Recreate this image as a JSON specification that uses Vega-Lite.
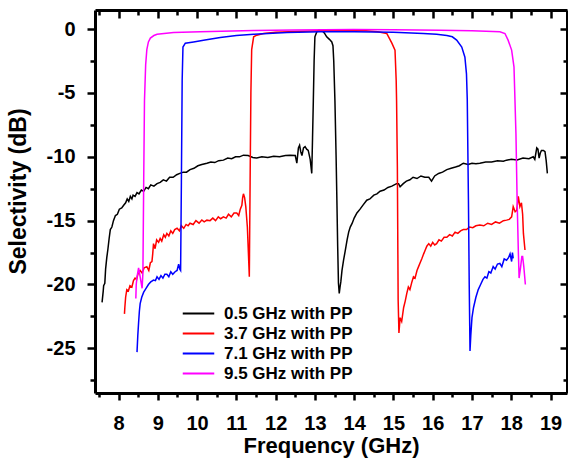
{
  "$schema": "https://vega.github.io/schema/vega-lite/v6.json",
  "width": 472,
  "height": 383,
  "autosize": {"type": "none"},
  "padding": {"left": 95, "top": 10, "right": 1, "bottom": 73},
  "config": {
    "view": {"stroke": null},
    "axis": {
      "grid": false,
      "domainColor": "#000000",
      "tickColor": "#000000",
      "domainWidth": 3,
      "tickWidth": 2.5,
      "labelFont": "Liberation Sans",
      "labelFontWeight": "bold",
      "labelFontSize": 20,
      "labelColor": "#000000",
      "labelFlush": false,
      "labelOverlap": false,
      "titleFont": "Liberation Sans",
      "titleFontWeight": "bold",
      "titleFontSize": 22,
      "titleColor": "#000000"
    }
  },
  "data": {
    "values": [
      {"s": "0.5 GHz with PP", "f": 7.58, "v": -21.4},
      {"s": "0.5 GHz with PP", "f": 7.61, "v": -20.5},
      {"s": "0.5 GHz with PP", "f": 7.62, "v": -20.1},
      {"s": "0.5 GHz with PP", "f": 7.65, "v": -19.9},
      {"s": "0.5 GHz with PP", "f": 7.67, "v": -18.8},
      {"s": "0.5 GHz with PP", "f": 7.70, "v": -17.9},
      {"s": "0.5 GHz with PP", "f": 7.73, "v": -17.2},
      {"s": "0.5 GHz with PP", "f": 7.76, "v": -16.4},
      {"s": "0.5 GHz with PP", "f": 7.79, "v": -15.7},
      {"s": "0.5 GHz with PP", "f": 7.83, "v": -15.5},
      {"s": "0.5 GHz with PP", "f": 7.87, "v": -15.0},
      {"s": "0.5 GHz with PP", "f": 7.92, "v": -14.6},
      {"s": "0.5 GHz with PP", "f": 7.97, "v": -14.5},
      {"s": "0.5 GHz with PP", "f": 8.02, "v": -14.1},
      {"s": "0.5 GHz with PP", "f": 8.08, "v": -14.0},
      {"s": "0.5 GHz with PP", "f": 8.13, "v": -13.8},
      {"s": "0.5 GHz with PP", "f": 8.18, "v": -13.6},
      {"s": "0.5 GHz with PP", "f": 8.22, "v": -13.3},
      {"s": "0.5 GHz with PP", "f": 8.26, "v": -13.5},
      {"s": "0.5 GHz with PP", "f": 8.30, "v": -13.1},
      {"s": "0.5 GHz with PP", "f": 8.34, "v": -13.3},
      {"s": "0.5 GHz with PP", "f": 8.37, "v": -13.0},
      {"s": "0.5 GHz with PP", "f": 8.42, "v": -13.1},
      {"s": "0.5 GHz with PP", "f": 8.47, "v": -12.8},
      {"s": "0.5 GHz with PP", "f": 8.52, "v": -12.9},
      {"s": "0.5 GHz with PP", "f": 8.58, "v": -12.6},
      {"s": "0.5 GHz with PP", "f": 8.64, "v": -12.7},
      {"s": "0.5 GHz with PP", "f": 8.70, "v": -12.4},
      {"s": "0.5 GHz with PP", "f": 8.76, "v": -12.5},
      {"s": "0.5 GHz with PP", "f": 8.82, "v": -12.2},
      {"s": "0.5 GHz with PP", "f": 8.90, "v": -12.3},
      {"s": "0.5 GHz with PP", "f": 8.98, "v": -12.1},
      {"s": "0.5 GHz with PP", "f": 9.06, "v": -12.0},
      {"s": "0.5 GHz with PP", "f": 9.14, "v": -11.8},
      {"s": "0.5 GHz with PP", "f": 9.22, "v": -11.9},
      {"s": "0.5 GHz with PP", "f": 9.30, "v": -11.6},
      {"s": "0.5 GHz with PP", "f": 9.39, "v": -11.6},
      {"s": "0.5 GHz with PP", "f": 9.48, "v": -11.4},
      {"s": "0.5 GHz with PP", "f": 9.56, "v": -11.3},
      {"s": "0.5 GHz with PP", "f": 9.65, "v": -11.2},
      {"s": "0.5 GHz with PP", "f": 9.73, "v": -11.2},
      {"s": "0.5 GHz with PP", "f": 9.82, "v": -11.0},
      {"s": "0.5 GHz with PP", "f": 9.92, "v": -10.9},
      {"s": "0.5 GHz with PP", "f": 10.02, "v": -10.7},
      {"s": "0.5 GHz with PP", "f": 10.12, "v": -10.6},
      {"s": "0.5 GHz with PP", "f": 10.25, "v": -10.5},
      {"s": "0.5 GHz with PP", "f": 10.35, "v": -10.4},
      {"s": "0.5 GHz with PP", "f": 10.45, "v": -10.45},
      {"s": "0.5 GHz with PP", "f": 10.55, "v": -10.3},
      {"s": "0.5 GHz with PP", "f": 10.67, "v": -10.26},
      {"s": "0.5 GHz with PP", "f": 10.78, "v": -10.1},
      {"s": "0.5 GHz with PP", "f": 10.88, "v": -10.15},
      {"s": "0.5 GHz with PP", "f": 10.98, "v": -10.0},
      {"s": "0.5 GHz with PP", "f": 11.08, "v": -10.0},
      {"s": "0.5 GHz with PP", "f": 11.18, "v": -9.87},
      {"s": "0.5 GHz with PP", "f": 11.30, "v": -9.9},
      {"s": "0.5 GHz with PP", "f": 11.42, "v": -10.05},
      {"s": "0.5 GHz with PP", "f": 11.52, "v": -10.1},
      {"s": "0.5 GHz with PP", "f": 11.65, "v": -10.0},
      {"s": "0.5 GHz with PP", "f": 11.80, "v": -10.05},
      {"s": "0.5 GHz with PP", "f": 11.95, "v": -9.95},
      {"s": "0.5 GHz with PP", "f": 12.10, "v": -10.0},
      {"s": "0.5 GHz with PP", "f": 12.25, "v": -9.9},
      {"s": "0.5 GHz with PP", "f": 12.37, "v": -9.87},
      {"s": "0.5 GHz with PP", "f": 12.50, "v": -9.9},
      {"s": "0.5 GHz with PP", "f": 12.54, "v": -10.5},
      {"s": "0.5 GHz with PP", "f": 12.58, "v": -9.3},
      {"s": "0.5 GHz with PP", "f": 12.61, "v": -9.1},
      {"s": "0.5 GHz with PP", "f": 12.64, "v": -9.6},
      {"s": "0.5 GHz with PP", "f": 12.67, "v": -9.9},
      {"s": "0.5 GHz with PP", "f": 12.71, "v": -9.3},
      {"s": "0.5 GHz with PP", "f": 12.75, "v": -9.2},
      {"s": "0.5 GHz with PP", "f": 12.79, "v": -9.4},
      {"s": "0.5 GHz with PP", "f": 12.83, "v": -9.5},
      {"s": "0.5 GHz with PP", "f": 12.88, "v": -10.2},
      {"s": "0.5 GHz with PP", "f": 12.92, "v": -11.3},
      {"s": "0.5 GHz with PP", "f": 12.94, "v": -8.5},
      {"s": "0.5 GHz with PP", "f": 12.96, "v": -5.6},
      {"s": "0.5 GHz with PP", "f": 12.98, "v": -2.5},
      {"s": "0.5 GHz with PP", "f": 13.00, "v": -0.6},
      {"s": "0.5 GHz with PP", "f": 13.05, "v": -0.2},
      {"s": "0.5 GHz with PP", "f": 13.09, "v": -0.08},
      {"s": "0.5 GHz with PP", "f": 13.13, "v": -0.05},
      {"s": "0.5 GHz with PP", "f": 13.18, "v": -0.1},
      {"s": "0.5 GHz with PP", "f": 13.24, "v": -0.3},
      {"s": "0.5 GHz with PP", "f": 13.30, "v": -0.6},
      {"s": "0.5 GHz with PP", "f": 13.37, "v": -0.8},
      {"s": "0.5 GHz with PP", "f": 13.43, "v": -1.0},
      {"s": "0.5 GHz with PP", "f": 13.46, "v": -1.3},
      {"s": "0.5 GHz with PP", "f": 13.48, "v": -2.5},
      {"s": "0.5 GHz with PP", "f": 13.51, "v": -5.6},
      {"s": "0.5 GHz with PP", "f": 13.54, "v": -10.0},
      {"s": "0.5 GHz with PP", "f": 13.56, "v": -13.4},
      {"s": "0.5 GHz with PP", "f": 13.58, "v": -17.0},
      {"s": "0.5 GHz with PP", "f": 13.60, "v": -19.9},
      {"s": "0.5 GHz with PP", "f": 13.62, "v": -20.7},
      {"s": "0.5 GHz with PP", "f": 13.64, "v": -20.2},
      {"s": "0.5 GHz with PP", "f": 13.66, "v": -19.8},
      {"s": "0.5 GHz with PP", "f": 13.69, "v": -18.9},
      {"s": "0.5 GHz with PP", "f": 13.73, "v": -18.1},
      {"s": "0.5 GHz with PP", "f": 13.77, "v": -17.4},
      {"s": "0.5 GHz with PP", "f": 13.82, "v": -16.5},
      {"s": "0.5 GHz with PP", "f": 13.86, "v": -15.9},
      {"s": "0.5 GHz with PP", "f": 13.90, "v": -15.5},
      {"s": "0.5 GHz with PP", "f": 13.95, "v": -15.2},
      {"s": "0.5 GHz with PP", "f": 14.00, "v": -14.8},
      {"s": "0.5 GHz with PP", "f": 14.07, "v": -14.4},
      {"s": "0.5 GHz with PP", "f": 14.15, "v": -14.1},
      {"s": "0.5 GHz with PP", "f": 14.22, "v": -13.8},
      {"s": "0.5 GHz with PP", "f": 14.32, "v": -13.4},
      {"s": "0.5 GHz with PP", "f": 14.40, "v": -13.3},
      {"s": "0.5 GHz with PP", "f": 14.50, "v": -13.0},
      {"s": "0.5 GHz with PP", "f": 14.58, "v": -12.9},
      {"s": "0.5 GHz with PP", "f": 14.66, "v": -12.7},
      {"s": "0.5 GHz with PP", "f": 14.76, "v": -12.6},
      {"s": "0.5 GHz with PP", "f": 14.86, "v": -12.4},
      {"s": "0.5 GHz with PP", "f": 14.96, "v": -12.3},
      {"s": "0.5 GHz with PP", "f": 15.08, "v": -12.1},
      {"s": "0.5 GHz with PP", "f": 15.13, "v": -12.1},
      {"s": "0.5 GHz with PP", "f": 15.17, "v": -12.35},
      {"s": "0.5 GHz with PP", "f": 15.25, "v": -12.1},
      {"s": "0.5 GHz with PP", "f": 15.33, "v": -11.9},
      {"s": "0.5 GHz with PP", "f": 15.42, "v": -11.8},
      {"s": "0.5 GHz with PP", "f": 15.50, "v": -11.6},
      {"s": "0.5 GHz with PP", "f": 15.60, "v": -11.7},
      {"s": "0.5 GHz with PP", "f": 15.70, "v": -11.5},
      {"s": "0.5 GHz with PP", "f": 15.80, "v": -11.6},
      {"s": "0.5 GHz with PP", "f": 15.90, "v": -11.6},
      {"s": "0.5 GHz with PP", "f": 15.97, "v": -11.9},
      {"s": "0.5 GHz with PP", "f": 16.05, "v": -11.5},
      {"s": "0.5 GHz with PP", "f": 16.15, "v": -11.3},
      {"s": "0.5 GHz with PP", "f": 16.25, "v": -11.2},
      {"s": "0.5 GHz with PP", "f": 16.36, "v": -11.0},
      {"s": "0.5 GHz with PP", "f": 16.47, "v": -10.9},
      {"s": "0.5 GHz with PP", "f": 16.58, "v": -10.8},
      {"s": "0.5 GHz with PP", "f": 16.68, "v": -10.7},
      {"s": "0.5 GHz with PP", "f": 16.78, "v": -10.5},
      {"s": "0.5 GHz with PP", "f": 16.90, "v": -10.6},
      {"s": "0.5 GHz with PP", "f": 17.00, "v": -10.5},
      {"s": "0.5 GHz with PP", "f": 17.10, "v": -10.55},
      {"s": "0.5 GHz with PP", "f": 17.20, "v": -10.5},
      {"s": "0.5 GHz with PP", "f": 17.35, "v": -10.4},
      {"s": "0.5 GHz with PP", "f": 17.50, "v": -10.4},
      {"s": "0.5 GHz with PP", "f": 17.65, "v": -10.3},
      {"s": "0.5 GHz with PP", "f": 17.80, "v": -10.35},
      {"s": "0.5 GHz with PP", "f": 17.88, "v": -10.26},
      {"s": "0.5 GHz with PP", "f": 18.00, "v": -10.2},
      {"s": "0.5 GHz with PP", "f": 18.15, "v": -10.25},
      {"s": "0.5 GHz with PP", "f": 18.30, "v": -10.1},
      {"s": "0.5 GHz with PP", "f": 18.45, "v": -10.15},
      {"s": "0.5 GHz with PP", "f": 18.56, "v": -10.0},
      {"s": "0.5 GHz with PP", "f": 18.60, "v": -10.2},
      {"s": "0.5 GHz with PP", "f": 18.65, "v": -9.3},
      {"s": "0.5 GHz with PP", "f": 18.68, "v": -9.4},
      {"s": "0.5 GHz with PP", "f": 18.71, "v": -10.1},
      {"s": "0.5 GHz with PP", "f": 18.74, "v": -9.7},
      {"s": "0.5 GHz with PP", "f": 18.77, "v": -9.5},
      {"s": "0.5 GHz with PP", "f": 18.82, "v": -9.5},
      {"s": "0.5 GHz with PP", "f": 18.86, "v": -9.6},
      {"s": "0.5 GHz with PP", "f": 18.89, "v": -10.3},
      {"s": "0.5 GHz with PP", "f": 18.92, "v": -11.3},

      {"s": "3.7 GHz with PP", "f": 8.15, "v": -22.3},
      {"s": "3.7 GHz with PP", "f": 8.16, "v": -21.8},
      {"s": "3.7 GHz with PP", "f": 8.18, "v": -21.0},
      {"s": "3.7 GHz with PP", "f": 8.21, "v": -20.4},
      {"s": "3.7 GHz with PP", "f": 8.25, "v": -20.5},
      {"s": "3.7 GHz with PP", "f": 8.29, "v": -20.1},
      {"s": "3.7 GHz with PP", "f": 8.34, "v": -20.2},
      {"s": "3.7 GHz with PP", "f": 8.38, "v": -19.7},
      {"s": "3.7 GHz with PP", "f": 8.42, "v": -19.5},
      {"s": "3.7 GHz with PP", "f": 8.46, "v": -19.6},
      {"s": "3.7 GHz with PP", "f": 8.50, "v": -19.1},
      {"s": "3.7 GHz with PP", "f": 8.55, "v": -18.9},
      {"s": "3.7 GHz with PP", "f": 8.60, "v": -19.1},
      {"s": "3.7 GHz with PP", "f": 8.65, "v": -18.7},
      {"s": "3.7 GHz with PP", "f": 8.72, "v": -18.6},
      {"s": "3.7 GHz with PP", "f": 8.77, "v": -18.9},
      {"s": "3.7 GHz with PP", "f": 8.81, "v": -18.3},
      {"s": "3.7 GHz with PP", "f": 8.85, "v": -18.2},
      {"s": "3.7 GHz with PP", "f": 8.87, "v": -17.6},
      {"s": "3.7 GHz with PP", "f": 8.89, "v": -16.8},
      {"s": "3.7 GHz with PP", "f": 8.93, "v": -17.2},
      {"s": "3.7 GHz with PP", "f": 8.97, "v": -16.5},
      {"s": "3.7 GHz with PP", "f": 9.02, "v": -16.7},
      {"s": "3.7 GHz with PP", "f": 9.06, "v": -16.4},
      {"s": "3.7 GHz with PP", "f": 9.10, "v": -16.6},
      {"s": "3.7 GHz with PP", "f": 9.15, "v": -16.1},
      {"s": "3.7 GHz with PP", "f": 9.19, "v": -16.3},
      {"s": "3.7 GHz with PP", "f": 9.23, "v": -16.0},
      {"s": "3.7 GHz with PP", "f": 9.28, "v": -16.2},
      {"s": "3.7 GHz with PP", "f": 9.33, "v": -15.8},
      {"s": "3.7 GHz with PP", "f": 9.38, "v": -16.0},
      {"s": "3.7 GHz with PP", "f": 9.43, "v": -15.7},
      {"s": "3.7 GHz with PP", "f": 9.49, "v": -15.6},
      {"s": "3.7 GHz with PP", "f": 9.55, "v": -15.8},
      {"s": "3.7 GHz with PP", "f": 9.60, "v": -15.4},
      {"s": "3.7 GHz with PP", "f": 9.66, "v": -15.6},
      {"s": "3.7 GHz with PP", "f": 9.72, "v": -15.3},
      {"s": "3.7 GHz with PP", "f": 9.77, "v": -15.4},
      {"s": "3.7 GHz with PP", "f": 9.82, "v": -15.2},
      {"s": "3.7 GHz with PP", "f": 9.90, "v": -15.3},
      {"s": "3.7 GHz with PP", "f": 9.97, "v": -15.0},
      {"s": "3.7 GHz with PP", "f": 10.05, "v": -15.2},
      {"s": "3.7 GHz with PP", "f": 10.12, "v": -14.95},
      {"s": "3.7 GHz with PP", "f": 10.18, "v": -15.1},
      {"s": "3.7 GHz with PP", "f": 10.25, "v": -14.96},
      {"s": "3.7 GHz with PP", "f": 10.33, "v": -15.0},
      {"s": "3.7 GHz with PP", "f": 10.40, "v": -14.8},
      {"s": "3.7 GHz with PP", "f": 10.47, "v": -15.0},
      {"s": "3.7 GHz with PP", "f": 10.54, "v": -14.7},
      {"s": "3.7 GHz with PP", "f": 10.60, "v": -14.85},
      {"s": "3.7 GHz with PP", "f": 10.67, "v": -14.7},
      {"s": "3.7 GHz with PP", "f": 10.74, "v": -14.8},
      {"s": "3.7 GHz with PP", "f": 10.80, "v": -14.5},
      {"s": "3.7 GHz with PP", "f": 10.87, "v": -14.7},
      {"s": "3.7 GHz with PP", "f": 10.94, "v": -14.4},
      {"s": "3.7 GHz with PP", "f": 11.01, "v": -14.4},
      {"s": "3.7 GHz with PP", "f": 11.06, "v": -14.6},
      {"s": "3.7 GHz with PP", "f": 11.10, "v": -14.1},
      {"s": "3.7 GHz with PP", "f": 11.14, "v": -13.8},
      {"s": "3.7 GHz with PP", "f": 11.16, "v": -13.2},
      {"s": "3.7 GHz with PP", "f": 11.18, "v": -12.9},
      {"s": "3.7 GHz with PP", "f": 11.21, "v": -13.2},
      {"s": "3.7 GHz with PP", "f": 11.24, "v": -13.9},
      {"s": "3.7 GHz with PP", "f": 11.28, "v": -15.5},
      {"s": "3.7 GHz with PP", "f": 11.31, "v": -17.8},
      {"s": "3.7 GHz with PP", "f": 11.33, "v": -19.4},
      {"s": "3.7 GHz with PP", "f": 11.35, "v": -12.0},
      {"s": "3.7 GHz with PP", "f": 11.37, "v": -5.0},
      {"s": "3.7 GHz with PP", "f": 11.39, "v": -1.6},
      {"s": "3.7 GHz with PP", "f": 11.44, "v": -0.6},
      {"s": "3.7 GHz with PP", "f": 11.52, "v": -0.47},
      {"s": "3.7 GHz with PP", "f": 11.69, "v": -0.34},
      {"s": "3.7 GHz with PP", "f": 12.0, "v": -0.25},
      {"s": "3.7 GHz with PP", "f": 12.5, "v": -0.18},
      {"s": "3.7 GHz with PP", "f": 13.13, "v": -0.13},
      {"s": "3.7 GHz with PP", "f": 13.8, "v": -0.1},
      {"s": "3.7 GHz with PP", "f": 14.3, "v": -0.12},
      {"s": "3.7 GHz with PP", "f": 14.6, "v": -0.2},
      {"s": "3.7 GHz with PP", "f": 14.83, "v": -0.34},
      {"s": "3.7 GHz with PP", "f": 14.96, "v": -1.1},
      {"s": "3.7 GHz with PP", "f": 15.04, "v": -1.64},
      {"s": "3.7 GHz with PP", "f": 15.07, "v": -4.0},
      {"s": "3.7 GHz with PP", "f": 15.08, "v": -5.6},
      {"s": "3.7 GHz with PP", "f": 15.10, "v": -10.8},
      {"s": "3.7 GHz with PP", "f": 15.12, "v": -21.2},
      {"s": "3.7 GHz with PP", "f": 15.14, "v": -23.8},
      {"s": "3.7 GHz with PP", "f": 15.17, "v": -22.6},
      {"s": "3.7 GHz with PP", "f": 15.21, "v": -22.9},
      {"s": "3.7 GHz with PP", "f": 15.26, "v": -21.8},
      {"s": "3.7 GHz with PP", "f": 15.30, "v": -21.3},
      {"s": "3.7 GHz with PP", "f": 15.34, "v": -20.7},
      {"s": "3.7 GHz with PP", "f": 15.38, "v": -20.2},
      {"s": "3.7 GHz with PP", "f": 15.42, "v": -20.4},
      {"s": "3.7 GHz with PP", "f": 15.47, "v": -19.8},
      {"s": "3.7 GHz with PP", "f": 15.51, "v": -19.4},
      {"s": "3.7 GHz with PP", "f": 15.55, "v": -19.5},
      {"s": "3.7 GHz with PP", "f": 15.60, "v": -18.9},
      {"s": "3.7 GHz with PP", "f": 15.64, "v": -18.6},
      {"s": "3.7 GHz with PP", "f": 15.68, "v": -18.3},
      {"s": "3.7 GHz with PP", "f": 15.72, "v": -18.0},
      {"s": "3.7 GHz with PP", "f": 15.77, "v": -17.6},
      {"s": "3.7 GHz with PP", "f": 15.81, "v": -17.3},
      {"s": "3.7 GHz with PP", "f": 15.85, "v": -17.0},
      {"s": "3.7 GHz with PP", "f": 15.90, "v": -16.8},
      {"s": "3.7 GHz with PP", "f": 15.95, "v": -17.0},
      {"s": "3.7 GHz with PP", "f": 16.00, "v": -16.7},
      {"s": "3.7 GHz with PP", "f": 16.05, "v": -16.9},
      {"s": "3.7 GHz with PP", "f": 16.10, "v": -16.8},
      {"s": "3.7 GHz with PP", "f": 16.16, "v": -16.5},
      {"s": "3.7 GHz with PP", "f": 16.22, "v": -16.6},
      {"s": "3.7 GHz with PP", "f": 16.29, "v": -16.3},
      {"s": "3.7 GHz with PP", "f": 16.36, "v": -16.3},
      {"s": "3.7 GHz with PP", "f": 16.43, "v": -16.1},
      {"s": "3.7 GHz with PP", "f": 16.50, "v": -16.2},
      {"s": "3.7 GHz with PP", "f": 16.57, "v": -15.9},
      {"s": "3.7 GHz with PP", "f": 16.64, "v": -16.0},
      {"s": "3.7 GHz with PP", "f": 16.71, "v": -15.8},
      {"s": "3.7 GHz with PP", "f": 16.78, "v": -15.7},
      {"s": "3.7 GHz with PP", "f": 16.86, "v": -15.7},
      {"s": "3.7 GHz with PP", "f": 16.94, "v": -15.5},
      {"s": "3.7 GHz with PP", "f": 17.02, "v": -15.55},
      {"s": "3.7 GHz with PP", "f": 17.10, "v": -15.4},
      {"s": "3.7 GHz with PP", "f": 17.20, "v": -15.35},
      {"s": "3.7 GHz with PP", "f": 17.30, "v": -15.4},
      {"s": "3.7 GHz with PP", "f": 17.40, "v": -15.2},
      {"s": "3.7 GHz with PP", "f": 17.50, "v": -15.3},
      {"s": "3.7 GHz with PP", "f": 17.60, "v": -15.1},
      {"s": "3.7 GHz with PP", "f": 17.70, "v": -15.2},
      {"s": "3.7 GHz with PP", "f": 17.80, "v": -15.0},
      {"s": "3.7 GHz with PP", "f": 17.88, "v": -14.96},
      {"s": "3.7 GHz with PP", "f": 17.95, "v": -14.9},
      {"s": "3.7 GHz with PP", "f": 18.01, "v": -14.7},
      {"s": "3.7 GHz with PP", "f": 18.05, "v": -13.9},
      {"s": "3.7 GHz with PP", "f": 18.10, "v": -14.3},
      {"s": "3.7 GHz with PP", "f": 18.14, "v": -14.2},
      {"s": "3.7 GHz with PP", "f": 18.18, "v": -13.1},
      {"s": "3.7 GHz with PP", "f": 18.22, "v": -13.9},
      {"s": "3.7 GHz with PP", "f": 18.26, "v": -13.6},
      {"s": "3.7 GHz with PP", "f": 18.29, "v": -14.5},
      {"s": "3.7 GHz with PP", "f": 18.31, "v": -16.0},
      {"s": "3.7 GHz with PP", "f": 18.35, "v": -17.3},

      {"s": "7.1 GHz with PP", "f": 8.47, "v": -25.3},
      {"s": "7.1 GHz with PP", "f": 8.49, "v": -24.0},
      {"s": "7.1 GHz with PP", "f": 8.51, "v": -23.0},
      {"s": "7.1 GHz with PP", "f": 8.53, "v": -22.1},
      {"s": "7.1 GHz with PP", "f": 8.55, "v": -21.5},
      {"s": "7.1 GHz with PP", "f": 8.59, "v": -21.0},
      {"s": "7.1 GHz with PP", "f": 8.64, "v": -20.6},
      {"s": "7.1 GHz with PP", "f": 8.70, "v": -20.3},
      {"s": "7.1 GHz with PP", "f": 8.76, "v": -20.0},
      {"s": "7.1 GHz with PP", "f": 8.82, "v": -19.8},
      {"s": "7.1 GHz with PP", "f": 8.89, "v": -19.65},
      {"s": "7.1 GHz with PP", "f": 8.94, "v": -19.7},
      {"s": "7.1 GHz with PP", "f": 8.98, "v": -19.4},
      {"s": "7.1 GHz with PP", "f": 9.03, "v": -19.6},
      {"s": "7.1 GHz with PP", "f": 9.08, "v": -19.3},
      {"s": "7.1 GHz with PP", "f": 9.13, "v": -19.5},
      {"s": "7.1 GHz with PP", "f": 9.18, "v": -19.2},
      {"s": "7.1 GHz with PP", "f": 9.23, "v": -19.2},
      {"s": "7.1 GHz with PP", "f": 9.28, "v": -19.4},
      {"s": "7.1 GHz with PP", "f": 9.33, "v": -19.0},
      {"s": "7.1 GHz with PP", "f": 9.38, "v": -19.2},
      {"s": "7.1 GHz with PP", "f": 9.44, "v": -19.0},
      {"s": "7.1 GHz with PP", "f": 9.49, "v": -18.9},
      {"s": "7.1 GHz with PP", "f": 9.53, "v": -18.4},
      {"s": "7.1 GHz with PP", "f": 9.56, "v": -18.8},
      {"s": "7.1 GHz with PP", "f": 9.58, "v": -18.9},
      {"s": "7.1 GHz with PP", "f": 9.60, "v": -12.0},
      {"s": "7.1 GHz with PP", "f": 9.62, "v": -4.0},
      {"s": "7.1 GHz with PP", "f": 9.64, "v": -1.4},
      {"s": "7.1 GHz with PP", "f": 9.70, "v": -1.1},
      {"s": "7.1 GHz with PP", "f": 9.91, "v": -1.0},
      {"s": "7.1 GHz with PP", "f": 10.2, "v": -0.85},
      {"s": "7.1 GHz with PP", "f": 10.59, "v": -0.65},
      {"s": "7.1 GHz with PP", "f": 11.0, "v": -0.5},
      {"s": "7.1 GHz with PP", "f": 11.44, "v": -0.4},
      {"s": "7.1 GHz with PP", "f": 12.29, "v": -0.26},
      {"s": "7.1 GHz with PP", "f": 13.13, "v": -0.2},
      {"s": "7.1 GHz with PP", "f": 14.0, "v": -0.2},
      {"s": "7.1 GHz with PP", "f": 15.0, "v": -0.25},
      {"s": "7.1 GHz with PP", "f": 15.76, "v": -0.34},
      {"s": "7.1 GHz with PP", "f": 16.1, "v": -0.4},
      {"s": "7.1 GHz with PP", "f": 16.36, "v": -0.5},
      {"s": "7.1 GHz with PP", "f": 16.5, "v": -0.6},
      {"s": "7.1 GHz with PP", "f": 16.61, "v": -0.86},
      {"s": "7.1 GHz with PP", "f": 16.74, "v": -1.4},
      {"s": "7.1 GHz with PP", "f": 16.82, "v": -2.2},
      {"s": "7.1 GHz with PP", "f": 16.86, "v": -3.5},
      {"s": "7.1 GHz with PP", "f": 16.88, "v": -5.5},
      {"s": "7.1 GHz with PP", "f": 16.91, "v": -13.4},
      {"s": "7.1 GHz with PP", "f": 16.93, "v": -20.0},
      {"s": "7.1 GHz with PP", "f": 16.95, "v": -25.2},
      {"s": "7.1 GHz with PP", "f": 16.97, "v": -24.0},
      {"s": "7.1 GHz with PP", "f": 17.00, "v": -22.6},
      {"s": "7.1 GHz with PP", "f": 17.04, "v": -21.8},
      {"s": "7.1 GHz with PP", "f": 17.10, "v": -21.0},
      {"s": "7.1 GHz with PP", "f": 17.16, "v": -20.4},
      {"s": "7.1 GHz with PP", "f": 17.22, "v": -20.0},
      {"s": "7.1 GHz with PP", "f": 17.28, "v": -19.6},
      {"s": "7.1 GHz with PP", "f": 17.33, "v": -19.4},
      {"s": "7.1 GHz with PP", "f": 17.38, "v": -19.5},
      {"s": "7.1 GHz with PP", "f": 17.43, "v": -19.0},
      {"s": "7.1 GHz with PP", "f": 17.48, "v": -19.1},
      {"s": "7.1 GHz with PP", "f": 17.54, "v": -18.6},
      {"s": "7.1 GHz with PP", "f": 17.59, "v": -18.8},
      {"s": "7.1 GHz with PP", "f": 17.65, "v": -18.4},
      {"s": "7.1 GHz with PP", "f": 17.71, "v": -18.35},
      {"s": "7.1 GHz with PP", "f": 17.76, "v": -18.6},
      {"s": "7.1 GHz with PP", "f": 17.82, "v": -18.0},
      {"s": "7.1 GHz with PP", "f": 17.88, "v": -18.1},
      {"s": "7.1 GHz with PP", "f": 17.93, "v": -17.9},
      {"s": "7.1 GHz with PP", "f": 17.97, "v": -17.6},
      {"s": "7.1 GHz with PP", "f": 18.01, "v": -18.2},
      {"s": "7.1 GHz with PP", "f": 18.03, "v": -17.5},
      {"s": "7.1 GHz with PP", "f": 18.05, "v": -17.95},

      {"s": "9.5 GHz with PP", "f": 8.44, "v": -21.1},
      {"s": "9.5 GHz with PP", "f": 8.45, "v": -20.0},
      {"s": "9.5 GHz with PP", "f": 8.47, "v": -19.4},
      {"s": "9.5 GHz with PP", "f": 8.51, "v": -18.7},
      {"s": "9.5 GHz with PP", "f": 8.55, "v": -19.4},
      {"s": "9.5 GHz with PP", "f": 8.60, "v": -20.3},
      {"s": "9.5 GHz with PP", "f": 8.62, "v": -19.1},
      {"s": "9.5 GHz with PP", "f": 8.64, "v": -12.0},
      {"s": "9.5 GHz with PP", "f": 8.66, "v": -5.6},
      {"s": "9.5 GHz with PP", "f": 8.69, "v": -2.8},
      {"s": "9.5 GHz with PP", "f": 8.72, "v": -1.6},
      {"s": "9.5 GHz with PP", "f": 8.76, "v": -1.0},
      {"s": "9.5 GHz with PP", "f": 8.81, "v": -0.7},
      {"s": "9.5 GHz with PP", "f": 8.90, "v": -0.5},
      {"s": "9.5 GHz with PP", "f": 8.98, "v": -0.4},
      {"s": "9.5 GHz with PP", "f": 9.4, "v": -0.27},
      {"s": "9.5 GHz with PP", "f": 10.08, "v": -0.2},
      {"s": "9.5 GHz with PP", "f": 11.44, "v": -0.1},
      {"s": "9.5 GHz with PP", "f": 12.5, "v": -0.06},
      {"s": "9.5 GHz with PP", "f": 13.98, "v": -0.03},
      {"s": "9.5 GHz with PP", "f": 15.0, "v": -0.05},
      {"s": "9.5 GHz with PP", "f": 16.19, "v": -0.08},
      {"s": "9.5 GHz with PP", "f": 17.0, "v": -0.12},
      {"s": "9.5 GHz with PP", "f": 17.71, "v": -0.2},
      {"s": "9.5 GHz with PP", "f": 17.84, "v": -0.34},
      {"s": "9.5 GHz with PP", "f": 17.92, "v": -0.86},
      {"s": "9.5 GHz with PP", "f": 18.01, "v": -1.64},
      {"s": "9.5 GHz with PP", "f": 18.07, "v": -2.95},
      {"s": "9.5 GHz with PP", "f": 18.12, "v": -8.2},
      {"s": "9.5 GHz with PP", "f": 18.15, "v": -13.4},
      {"s": "9.5 GHz with PP", "f": 18.18, "v": -17.3},
      {"s": "9.5 GHz with PP", "f": 18.20, "v": -19.5},
      {"s": "9.5 GHz with PP", "f": 18.24, "v": -18.6},
      {"s": "9.5 GHz with PP", "f": 18.27, "v": -17.8},
      {"s": "9.5 GHz with PP", "f": 18.29, "v": -17.8},
      {"s": "9.5 GHz with PP", "f": 18.32, "v": -18.6},
      {"s": "9.5 GHz with PP", "f": 18.36, "v": -20.0}
    ]
  },
  "encoding": {
    "x": {"field": "f", "type": "quantitative", "scale": {"domain": [7.4, 19.42], "nice": false, "zero": false}},
    "y": {"field": "v", "type": "quantitative", "scale": {"domain": [-28.5, 1.5], "nice": false, "zero": false}}
  },
  "layer": [
    {
      "mark": {"type": "line", "strokeWidth": 1.5},
      "encoding": {
        "x": {"field": "f", "type": "quantitative", "axis": {"orient": "bottom", "values": [8, 9, 10, 11, 12, 13, 14, 15, 16, 17, 18, 19], "tickSize": 7, "labelPadding": 13, "labelExpr": "'' + datum.value", "title": "Frequency (GHz)", "titleX": 236, "titleY": 59, "titleAlign": "center", "titleBaseline": "alphabetic"}},
        "y": {"field": "v", "type": "quantitative", "axis": {"orient": "left", "values": [-25, -20, -15, -10, -5, 0], "tickSize": 8, "labelPadding": 12, "labelExpr": "'' + datum.value", "title": "Selectivity (dB)", "titleFontSize": 23, "titleX": -77, "titleY": 181, "titleAngle": -90, "titleAlign": "center", "titleBaseline": "middle"}},
        "color": {
          "field": "s", "type": "nominal",
          "scale": {"domain": ["0.5 GHz with PP", "3.7 GHz with PP", "7.1 GHz with PP", "9.5 GHz with PP"], "range": ["#000000", "#ff0000", "#0000ff", "#ff00ff"]},
          "legend": {"orient": "none", "legendX": 92, "legendY": 292, "title": null, "symbolType": "M-1.5,0H1.5", "symbolSize": 441, "symbolStrokeWidth": 2, "labelFont": "Liberation Sans", "labelFontWeight": "bold", "labelFontSize": 17, "labelColor": "#000000", "labelOffset": 14, "rowPadding": 0, "padding": 0}
        }
      }
    },
    {
      "mark": {"type": "point", "opacity": 0},
      "encoding": {
        "x": {"field": "f", "type": "quantitative", "axis": {"orient": "bottom", "values": [7.5, 8.5, 9.5, 10.5, 11.5, 12.5, 13.5, 14.5, 15.5, 16.5, 17.5, 18.5], "tickSize": 4, "labels": false, "domain": false, "title": null}},
        "y": {"field": "v", "type": "quantitative", "axis": {"orient": "left", "values": [-27.5, -22.5, -17.5, -12.5, -7.5, -2.5], "tickSize": 5, "labels": false, "domain": false, "title": null}}
      }
    },
    {
      "mark": {"type": "point", "opacity": 0},
      "encoding": {
        "x": {"field": "f", "type": "quantitative", "axis": {"orient": "top", "values": [8, 9, 10, 11, 12, 13, 14, 15, 16, 17, 18, 19], "tickSize": -8, "labels": false, "title": null}},
        "y": {"field": "v", "type": "quantitative", "axis": {"orient": "right", "values": [-25, -20, -15, -10, -5, 0], "tickSize": -7, "labels": false, "title": null}}
      }
    },
    {
      "mark": {"type": "point", "opacity": 0},
      "encoding": {
        "x": {"field": "f", "type": "quantitative", "axis": {"orient": "top", "values": [7.5, 8.5, 9.5, 10.5, 11.5, 12.5, 13.5, 14.5, 15.5, 16.5, 17.5, 18.5], "tickSize": -5, "labels": false, "domain": false, "title": null}},
        "y": {"field": "v", "type": "quantitative", "axis": {"orient": "right", "values": [-27.5, -22.5, -17.5, -12.5, -7.5, -2.5], "tickSize": -4, "labels": false, "domain": false, "title": null}}
      }
    }
  ],
  "resolve": {"axis": {"x": "independent", "y": "independent"}}
}
